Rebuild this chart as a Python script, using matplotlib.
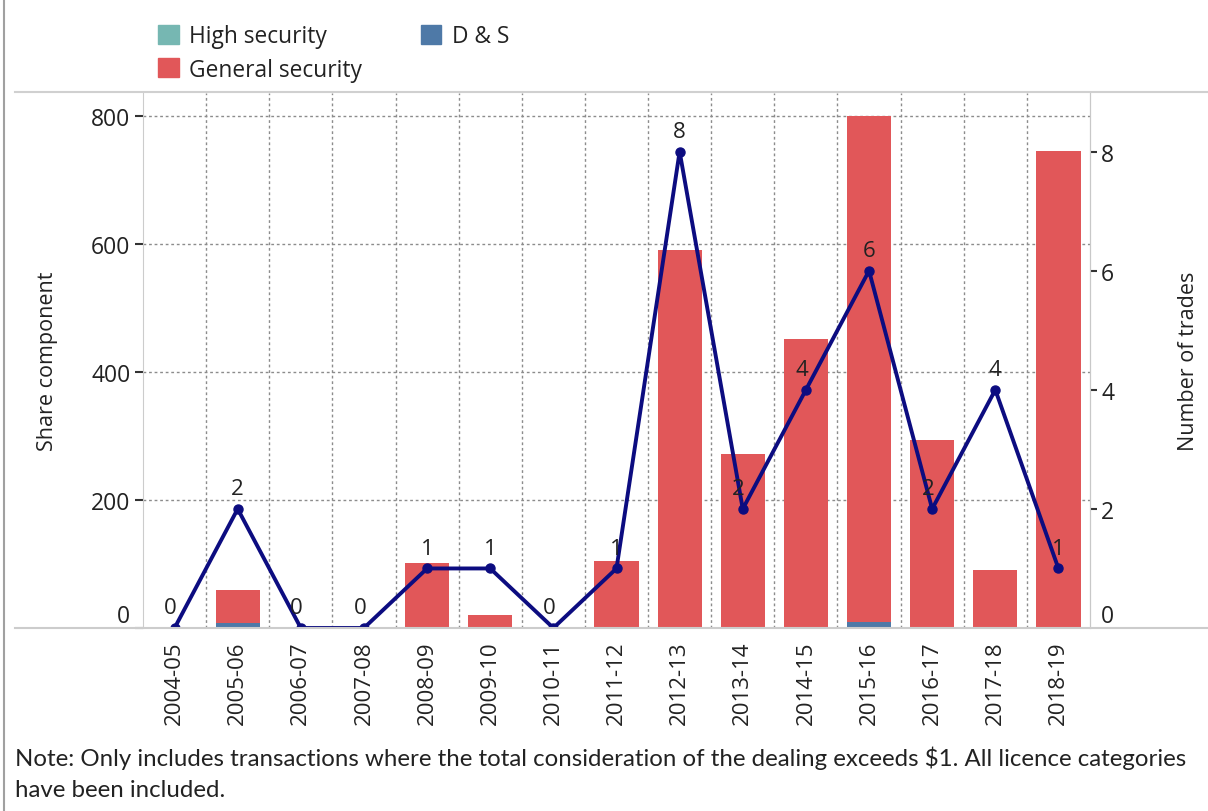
import matplotlib.pyplot as plt
from matplotlib.lines import Line2D
from matplotlib.patches import Patch
import numpy as np

# data
years = ['2004-05', '2005-06', '2006-07', '2007-08', '2008-09', '2009-10', '2010-11',
         '2011-12', '2012-13', '2013-14', '2014-15', '2015-16', '2016-17', '2017-18', '2018-19']
high_security = [0, 0, 0, 0, 0, 0, 0, 0, 0, 0, 0, 0, 0, 0, 0]
d_and_s = [0, 8, 0, 0, 0, 0, 0, 0, 0, 0, 0, 9, 0, 0, 0]
general_security = [0, 51, 0, 0, 102, 20, 0, 105, 590, 272, 451, 791, 293, 91, 745]
trades = [0, 2, 0, 0, 1, 1, 0, 1, 8, 2, 4, 6, 2, 4, 1]

c_high = '#76B7B2'
c_ds = '#4E79A7'
c_gen = '#E15759'
c_line = '#0c0c80'
txt = '#222222'
font = 'Open Sans'

plt.rcParams['font.family'] = [font, 'DejaVu Sans']

fig = plt.figure(figsize=(12.08, 8.12), dpi=100)
ax = fig.add_axes([143 / 1208, 1 - 629 / 812, (1090 - 143) / 1208, (629 - 94) / 812])

x = np.arange(len(years))
ds = np.array(d_and_s)
gen = np.array(general_security)
ax.bar(x, ds, width=0.7, color=c_ds, zorder=2)
ax.bar(x, gen, width=0.7, bottom=ds, color=c_gen, zorder=2)
ax.bar(x, high_security, width=0.7, bottom=ds + gen, color=c_high, zorder=2)

ax.set_xlim(-0.5, len(years) - 0.5)
ax.set_ylim(0, 836)
ax.set_yticks([0, 200, 400, 600, 800])
ax.set_xticks(x)
ax.set_xticklabels(years, rotation=90, fontsize=16, color=txt)
ax.tick_params(axis='x', length=0, pad=9)
ax.tick_params(axis='y', length=6, width=1.5, color='#333333', labelsize=16.5, labelcolor=txt, pad=3)
ax.yaxis.get_major_ticks()[0].tick1line.set_visible(False)
ax.get_yticklabels()[0].set_verticalalignment('bottom')

# dotted grid: horizontal at value ticks, vertical between categories
for v in [200, 400, 600, 800]:
    ax.axhline(v, color='#8c8c8c', lw=1, ls=(0, (2, 2)), zorder=1)
for b in x[:-1] + 0.5:
    ax.axvline(b, color='#8c8c8c', lw=1, ls=(0, (2, 2)), zorder=1)

for s in ['top', 'bottom']:
    ax.spines[s].set_visible(False)
ax.spines['left'].set_color('#cccccc')
ax.spines['right'].set_color('#c8c8c8')
ax.set_ylabel('Share component', fontsize=15.5, color=txt, labelpad=24)

ax2 = ax.twinx()
ax2.plot(x, trades, color=c_line, lw=2.8, marker='o', ms=6.5, zorder=3)
ax2.set_ylim(0, 8.985)
ax2.set_yticks([0, 2, 4, 6, 8])
ax2.tick_params(axis='y', length=5, width=1.5, color='#333333', labelsize=16.5, labelcolor=txt, pad=3)
ax2.yaxis.get_major_ticks()[0].tick2line.set_visible(False)
ax2.get_yticklabels()[0].set_verticalalignment('bottom')
for s in ['top', 'bottom', 'left']:
    ax2.spines[s].set_visible(False)
ax2.spines['right'].set_color('#c8c8c8')
ax2.set_ylabel('Number of trades', fontsize=15.5, color=txt, labelpad=46)

for i, v in enumerate(trades):
    ax2.annotate(str(v), (i, v), xytext=(-3 if v in (0, 2, 4) and i not in (1, 13) else 0, 7),
                 textcoords='offset points', ha='center', va='bottom',
                 fontsize=16, color=txt, zorder=4)

# frame lines around the chart
fig.add_artist(Line2D([4 / 1208, 4 / 1208], [0, 1], color='#a0a0a0', lw=1.5))
fig.add_artist(Line2D([15 / 1208, 1], [1 - 93 / 812] * 2, color='#d0d0d0', lw=1.5))
fig.add_artist(Line2D([15 / 1208, 1], [1 - 629 / 812] * 2, color='#cccccc', lw=1.5))

handles = [Patch(color=c_high), Patch(color=c_gen), Patch(color=c_ds)]
labels = ['High security', 'General security', 'D & S']
fig.legend(handles, labels, ncol=2, loc='upper left', bbox_to_anchor=(158 / 1208, 1 - 25 / 812),
           frameon=False, fontsize=16.4, handlelength=0.9, handleheight=0.9,
           handletextpad=0.45, columnspacing=2.6, labelspacing=0.42, borderpad=0, borderaxespad=0,
           labelcolor=txt)

fig.text(15 / 1208, 1 - 758 / 812,
         'Note: Only includes transactions where the total consideration of the dealing exceeds $1. All licence categories',
         fontsize=17.3, family=['Lato', 'DejaVu Sans'], va='center', color=txt)
fig.text(15 / 1208, 1 - 791 / 812, 'have been included.',
         fontsize=17.3, family=['Lato', 'DejaVu Sans'], va='center', color=txt)

fig.savefig('out.png', dpi=100)
